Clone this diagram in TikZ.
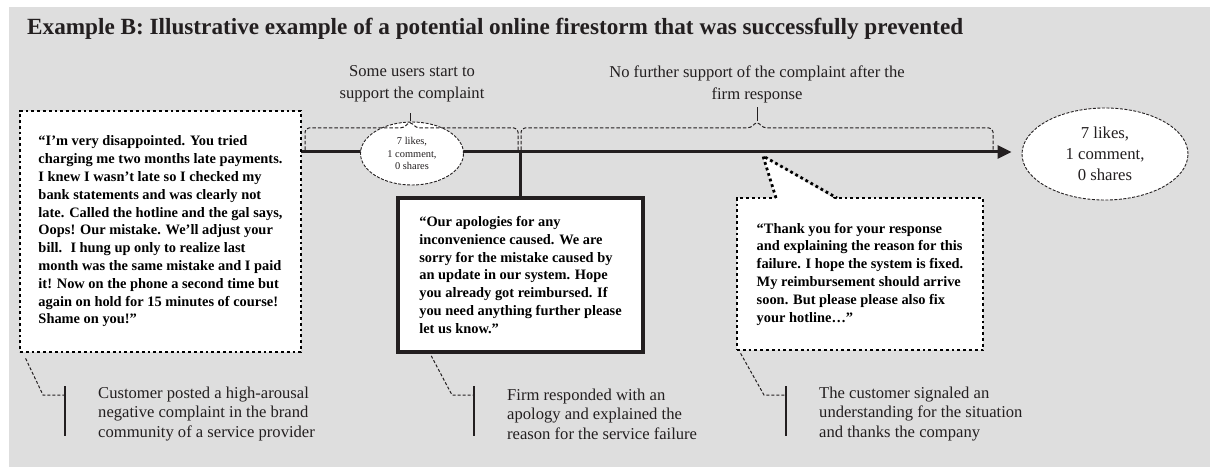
\documentclass[tikz,border=0pt]{standalone}
\usepackage{fontspec}
\setmainfont{Liberation Serif}
\usetikzlibrary{shapes.geometric,arrows.meta,positioning}
\definecolor{panelgray}{HTML}{DEDEDE}
\definecolor{inkdark}{HTML}{231F20}
\tikzset{
  quotebox/.style={draw=black, fill=white, line width=2.8pt, dash pattern=on 2.8pt off 3pt, inner sep=0pt, align=left, font=\bfseries\fontsize{14.4}{17.8}\selectfont},
  firmbox/.style={draw=inkdark, fill=white, line width=3.6pt, inner sep=0pt, align=left, font=\bfseries\fontsize{14.4}{17.8}\selectfont},
  countell/.style={ellipse, draw=inkdark, fill=white, line width=0.9pt, dash pattern=on 3pt off 1.5pt, inner sep=0pt, align=center, text=inkdark},
  bracepath/.style={draw=inkdark, line width=1pt, dash pattern=on 3.5pt off 2pt, rounded corners=4pt},
  leader/.style={draw=inkdark, line width=1pt, dash pattern=on 3pt off 2pt},
  notebar/.style={draw=inkdark, line width=1.3pt},
  notetext/.style={font=\fontsize{16.6}{19.4}\selectfont, text=inkdark, align=left, anchor=west, inner sep=0pt},
  phase/.style={font=\fontsize{16.6}{22}\selectfont, text=inkdark, align=center, inner sep=0pt}
}
\begin{document}
\begin{tikzpicture}[x=1pt, y=-1pt]
\useasboundingbox (0,0) rectangle (1219,476);
\fill[panelgray] (9,7) rectangle (1210,467);
\node[anchor=base west, inner sep=0pt, text=inkdark, font=\bfseries\fontsize{23.2}{26}\selectfont] (title) at (27,35) {Example B: Illustrative example of a potential online firestorm that was successfully prevented};

\coordinate (tlstart) at (301,152);
\node[countell, minimum width=166pt, minimum height=92pt, font=\fontsize{16.7}{21}\selectfont] (final) at (1105,154) {7 likes,\\1 comment,\\0 shares};
\draw[draw=inkdark, line width=3pt, -{Triangle[length=14pt,width=13pt]}, shorten >=10pt] (tlstart) -- (tlstart -| final.west);
\node[countell, minimum width=103pt, minimum height=63pt, font=\fontsize{10.4}{12.8}\selectfont] (early) at (412,153.5) {7 likes,\\1 comment,\\0 shares};

\draw[bracepath] (305,150) -- (305,128) -- (404,128) -- (410,121) coordinate (tip1) -- (416,128) -- (518,128) -- (518,150);
\draw[bracepath] (521,150) -- (521,128) -- (751,128) -- (757,121) coordinate (tip2) -- (763,128) -- (993,128) -- (993,150);
\draw[draw=inkdark, line width=1pt] (tip1) -- ++(0,-8);
\draw[draw=inkdark, line width=1pt] (tip2) -- ++(0,-14);
\node[phase] (phase1) at (412,84) {Some users start to\\support the complaint};
\node[phase] (phase2) at (757,84) {No further support of the complaint after the\\firm response};

\node[quotebox, minimum width=281pt, minimum height=241pt] (complaint) at (160.5,231.5) {“I’m very disappointed. You tried\\charging me two months late payments.\\I knew I wasn’t late so I checked my\\bank statements and was clearly not\\late. Called the hotline and the gal says,\\Oops! Our mistake. We'll adjust your\\bill.~ I hung up only to realize last\\month was the same mistake and I paid\\it! Now on the phone a second time but\\again on hold for 15 minutes of course!\\Shame on you!”};
\node[firmbox, minimum width=245pt, minimum height=154pt] (reply) at (520.5,275) {“Our apologies for any\\inconvenience caused. We are\\sorry for the mistake caused by\\an update in our system. Hope\\you already got reimbursed. If\\you need anything further please\\let us know.”};
\draw[draw=inkdark, line width=3pt] (reply.north) -- (reply.north |- tlstart);
\node[quotebox, minimum width=246pt, minimum height=152pt] (thanks) at (860,274) {“Thank you for your response\\and explaining the reason for this\\failure. I hope the system is fixed.\\My reimbursement should arrive\\soon. But please please also fix\\your hotline…”};
\coordinate (ptip) at (763,156);
\coordinate (pleft) at (776,198);
\coordinate (pright) at (837,198);
\fill[white] ([yshift=-2.5pt]pleft) -- (ptip) -- ([yshift=-2.5pt]pright) -- cycle;
\draw[draw=black, line width=2.8pt, dash pattern=on 2.8pt off 3pt] (pleft) -- (ptip) -- (pright);

\node[notetext] (note1) at (98,414) {Customer posted a high-arousal\\negative complaint in the brand\\community of a service provider};
\node[notetext] (note2) at (507,414) {Firm responded with an\\apology and explained the\\reason for the service failure};
\node[notetext] (note3) at (819,414) {The customer signaled an\\understanding for the situation\\and thanks the company};
\foreach \n in {1,2,3} {
  \coordinate (bar\n) at ([xshift=-33pt]note\n.west);
  \draw[notebar] ([yshift=28pt]bar\n) -- ([yshift=-22pt]bar\n);
}
\draw[leader] ([xshift=7pt,yshift=-5pt]complaint.south west) -- ([xshift=-22pt,yshift=19pt]bar1) -- ([yshift=19pt]bar1);
\draw[leader] ([xshift=35pt,yshift=-2pt]reply.south west) -- ([xshift=-22pt,yshift=19pt]bar2) -- ([yshift=19pt]bar2);
\draw[leader] ([xshift=5pt,yshift=-2pt]thanks.south west) -- ([xshift=-22pt,yshift=19pt]bar3) -- ([yshift=19pt]bar3);
\end{tikzpicture}
\end{document}
